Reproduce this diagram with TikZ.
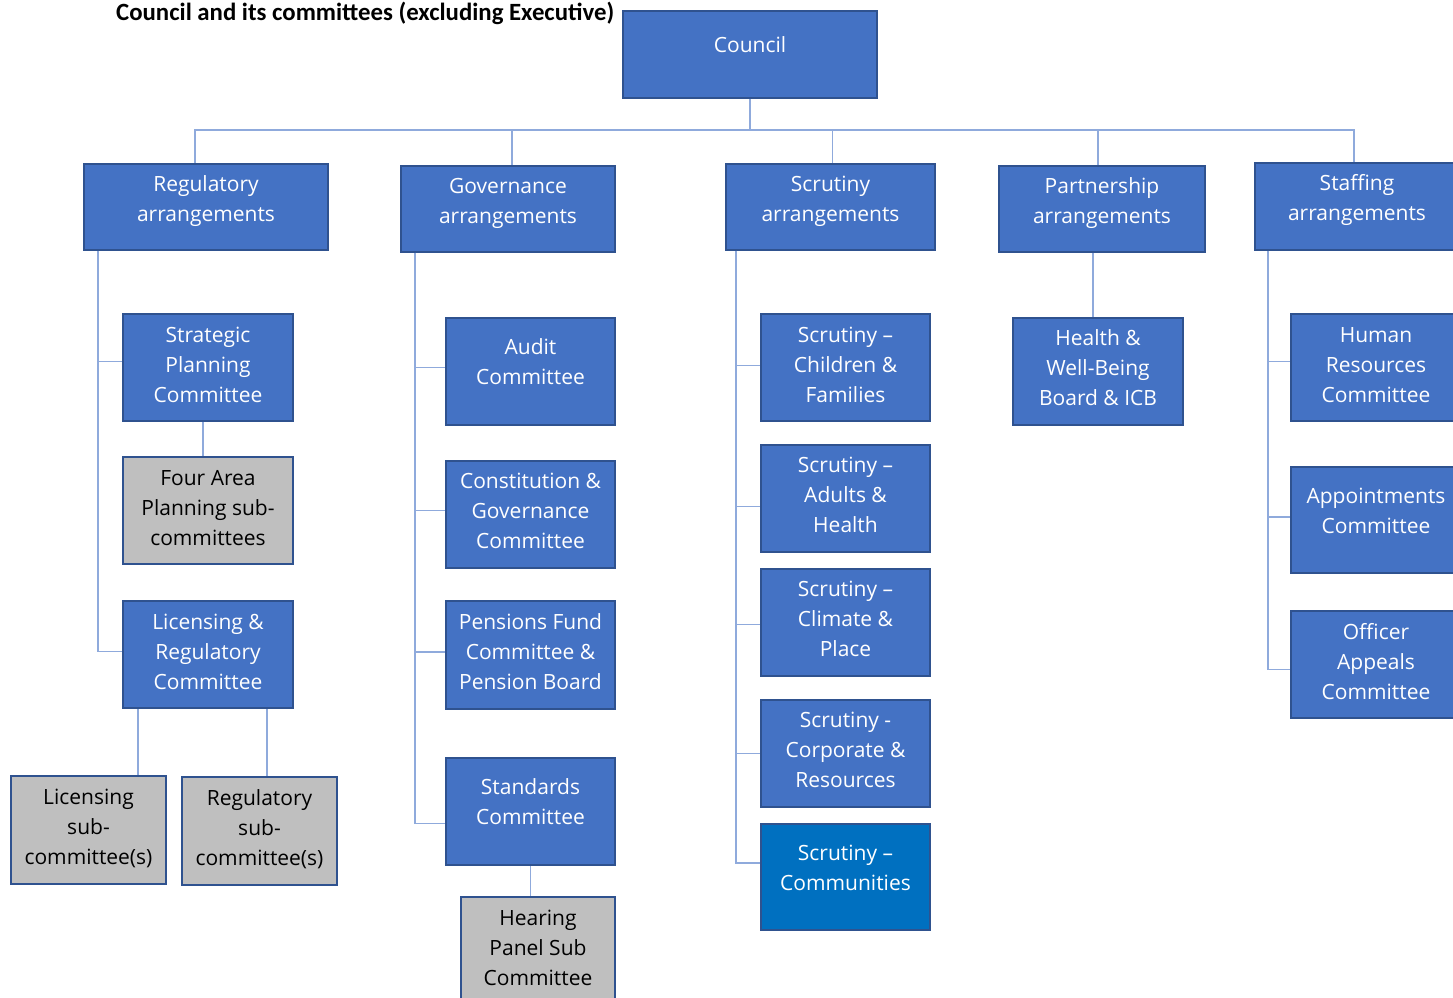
\documentclass[tikz,border=0pt]{standalone}
\usepackage{fontspec}
\setmainfont{Open Sans}
\newfontfamily\titlefont{Carlito}
\usetikzlibrary{calc}

\definecolor{orgblue}{HTML}{4472C4}
\definecolor{orgedge}{HTML}{2F528F}
\definecolor{orggrey}{HTML}{BFBFBF}
\definecolor{commblue}{HTML}{0070C0}
\definecolor{linkblue}{HTML}{8FAADC}

% box text: width, height, first baseline, lines
\newcommand{\chartbox}[4]{\parbox[c][#2pt][t]{#1pt}{\centering\rule{0pt}{#3pt}#4}}

\tikzset{
  unit/.style = {draw=orgedge, line width=1.8pt, inner sep=0pt, fill=orgblue,
                 text=white, font=\fontsize{21}{30}\selectfont},
  subunit/.style = {unit, fill=orggrey, text=black},
  link/.style = {draw=linkblue, line width=1.4pt}
}

\begin{document}
\begin{tikzpicture}[x=1pt, y=-1pt]
  \useasboundingbox (0,0) rectangle (1453,998);

  \node[anchor=base west, inner sep=0pt, font=\titlefont\bfseries\fontsize{24.8}{28}\selectfont]
       (title) at (116,20.5) {Council and its committees (excluding Executive)};

  \node[unit] (council) at (750,54.5) {\chartbox{254}{87}{41}{Council}};

  % arrangements
  \node[unit] (regarr)   at (206,207)    {\chartbox{244}{86}{27}{Regulatory\\arrangements}};
  \node[unit] (govarr)   at (508,209)    {\chartbox{214}{86}{27}{Governance\\arrangements}};
  \node[unit] (scrarr)   at (830.5,207)  {\chartbox{209}{86}{27}{Scrutiny\\arrangements}};
  \node[unit] (parr)     at (1102,209)   {\chartbox{206}{86}{27}{Partnership\\arrangements}};
  \node[unit] (staffarr) at (1357,206.5) {\chartbox{204}{87}{27}{Staffing\\arrangements}};

  % regulatory
  \node[unit]    (strat)    at (208,367.5) {\chartbox{170}{107}{28}{Strategic\\Planning\\Committee}};
  \node[subunit] (fourarea) at (208,510.5) {\chartbox{170}{107}{28}{Four Area\\Planning sub-\\committees}};
  \node[unit]    (licreg)   at (208,654.5) {\chartbox{170}{107}{28}{Licensing \&\\Regulatory\\Committee}};
  \node[subunit] (licsub)   at (88.5,830)  {\chartbox{155}{108}{28}{Licensing\\sub-\\committee(s)}};
  \node[subunit] (regsub)   at (259.5,831) {\chartbox{155}{108}{28}{Regulatory\\sub-\\committee(s)}};

  % governance
  \node[unit]    (audit)     at (530.5,371.5) {\chartbox{169}{107}{36}{Audit\\Committee}};
  \node[unit]    (constit)   at (530.5,514.5) {\chartbox{169}{107}{27}{Constitution \&\\Governance\\Committee}};
  \node[unit]    (pensions)  at (530.5,655)   {\chartbox{169}{108}{28}{Pensions Fund\\Committee \&\\Pension Board}};
  \node[unit]    (standards) at (530.5,811.5) {\chartbox{169}{107}{36}{Standards\\Committee}};
  \node[subunit] (hearing)   at (538,950.5)   {\chartbox{154}{107}{28}{Hearing\\Panel Sub\\Committee}};

  % scrutiny
  \node[unit] (scrcf)  at (845.5,367.5) {\chartbox{169}{107}{28}{Scrutiny --\\Children \&\\Families}};
  \node[unit] (scrah)  at (845.5,498.5) {\chartbox{169}{107}{27}{Scrutiny --\\Adults \&\\Health}};
  \node[unit] (scrcp)  at (845.5,622.5) {\chartbox{169}{107}{27}{Scrutiny --\\Climate \&\\Place}};
  \node[unit] (scrcr)  at (845.5,753.5) {\chartbox{169}{107}{27}{Scrutiny -\\Corporate \&\\Resources}};
  \node[unit, fill=commblue] (scrcom) at (845.5,877) {\chartbox{169}{106}{36}{Scrutiny --\\Communities}};

  % partnership
  \node[unit] (health) at (1098,371.5) {\chartbox{170}{107}{27}{Health \&\\Well-Being\\Board \& ICB}};

  % staffing
  \node[unit] (hr)      at (1376,367.5) {\chartbox{170}{107}{28}{Human\\Resources\\Committee}};
  \node[unit] (appts)   at (1376,520)   {\chartbox{170}{106}{36}{Appointments\\Committee}};
  \node[unit] (officer) at (1376,664.5) {\chartbox{170}{107}{28}{Officer\\Appeals\\Committee}};

  % Council down to the bus
  \coordinate (bus) at (748,130);
  \draw[link] (council.south) -- (council.south |- bus);
  \draw[link] ([xshift=-11]regarr.north) |- (bus);
  \draw[link] ([xshift=4]govarr.north) |- (bus);
  \draw[link] ([xshift=2]scrarr.north) |- (bus);
  \draw[link] ([xshift=-4]parr.north) |- (bus);
  \draw[link] ([xshift=-3]staffarr.north) |- (bus);

  % regulatory branches
  \draw[link] ([xshift=15]regarr.south west) |- ([yshift=6]strat.west);
  \draw[link] ([xshift=15]regarr.south west) |- ([yshift=3]licreg.west);
  \draw[link] ([xshift=-5]strat.south) -- ([xshift=-5]fourarea.north);
  \draw[link] ([xshift=-70]licreg.south) -- ([xshift=-70]licreg.south |- licsub.north);
  \draw[link] ([xshift=59]licreg.south) -- ([xshift=59]licreg.south |- regsub.north);

  % governance branches
  \draw[link] ([xshift=15]govarr.south west) |- ([yshift=4]audit.west);
  \draw[link] ([xshift=15]govarr.south west) |- ([yshift=4]constit.west);
  \draw[link] ([xshift=15]govarr.south west) |- ([yshift=3]pensions.west);
  \draw[link] ([xshift=15]govarr.south west) |- ([yshift=-12]standards.west);
  \draw[link] (standards.south) -- (standards.south |- hearing.north);

  % scrutiny branches
  \draw[link] ([xshift=11]scrarr.south west) |- ([yshift=2]scrcf.west);
  \draw[link] ([xshift=11]scrarr.south west) |- ([yshift=-8]scrah.west);
  \draw[link] ([xshift=11]scrarr.south west) |- ([yshift=-2]scrcp.west);
  \draw[link] ([xshift=11]scrarr.south west) |- (scrcr.west);
  \draw[link] ([xshift=11]scrarr.south west) |- ([yshift=14]scrcom.west);

  % partnership branch
  \draw[link] ([xshift=-9]parr.south) -- ([xshift=-9]parr.south |- health.north);

  % staffing branches
  \draw[link] ([xshift=14]staffarr.south west) |- ([yshift=6]hr.west);
  \draw[link] ([xshift=14]staffarr.south west) |- ([yshift=3]appts.west);
  \draw[link] ([xshift=14]staffarr.south west) |- ([yshift=-5]officer.west);
\end{tikzpicture}
\end{document}
